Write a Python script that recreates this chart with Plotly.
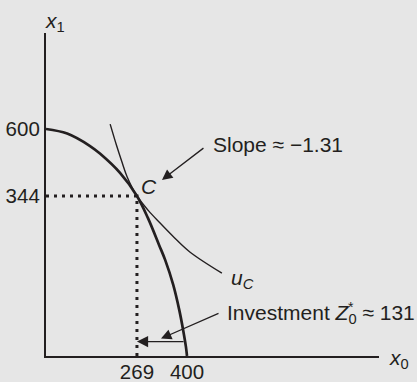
import numpy as np
import plotly.graph_objects as go

# ---- data (schematic units: frontier intercepts at 400 and 600) ----
frontier_x0 = [0, 60, 125, 153, 210, 258, 289, 321, 338, 361, 378, 389, 397, 400]
frontier_x1 = [600, 588, 555, 535, 484, 423, 365, 293, 254, 188, 122, 69, 24, 0]

indiff_x0 = [182, 200, 215, 230, 258, 290, 323, 365, 408, 499]
indiff_x1 = [613, 557, 514, 474, 423, 385, 352, 312, 275, 219]

C_index = 5                      # optimum point C on the frontier
x_tick_labels = ["269", "400"]   # x0 at C, frontier intercept
y_tick_labels = ["344", "600"]   # x1 at C, frontier intercept
slope_text = "Slope \u2248 \u22121.31"
invest_value = "131"
invest_height = 38               # height at which investment arrow is drawn

INK = "#231f20"
BG = "#e6e6e6"
FONT = "Liberation Sans, Arial, Helvetica, sans-serif"

Cx, Cy = frontier_x0[C_index], frontier_x1[C_index]
x_end = frontier_x0[-1]
y_top = frontier_x1[0]

fig = go.Figure()

# dotted guides to C
fig.add_trace(go.Scatter(x=[0, Cx, Cx], y=[Cy, Cy, 0], mode="lines",
                         line=dict(color=INK, width=3, dash="3px,5px"),
                         hoverinfo="skip", showlegend=False))
# frontier
fig.add_trace(go.Scatter(x=frontier_x0, y=frontier_x1, mode="lines",
                         line=dict(color=INK, width=2.7, shape="spline"),
                         cliponaxis=False, showlegend=False))
# indifference curve
fig.add_trace(go.Scatter(x=indiff_x0, y=indiff_x1, mode="lines",
                         line=dict(color=INK, width=1.4, shape="spline"),
                         showlegend=False))

# investment arrow (from frontier back to C's x0)
tail_x = float(np.interp(invest_height, frontier_x1[::-1], frontier_x0[::-1]))
mid_x = (Cx + tail_x) / 2

anns = []
anns.append(dict(x=Cx, y=invest_height, ax=tail_x, ay=invest_height,
                 axref="x", ayref="y", xref="x", yref="y", text="",
                 showarrow=True, arrowhead=2, arrowsize=1.6, arrowwidth=1.4,
                 arrowcolor=INK, standoff=0))
# slope pointer
anns.append(dict(x=Cx, y=Cy, xshift=25, yshift=16, ax=43, ay=-33,
                 text="", showarrow=True, arrowhead=2, arrowsize=1.6,
                 arrowwidth=1.3, arrowcolor=INK, standoff=0))
# investment pointer
anns.append(dict(x=mid_x, y=invest_height, yshift=3, ax=59, ay=-26,
                 text="", showarrow=True, arrowhead=2, arrowsize=1.6,
                 arrowwidth=1.3, arrowcolor=INK, standoff=0))

tf = dict(family=FONT, size=21, color=INK)
anns.append(dict(x=Cx, y=Cy, xshift=74, yshift=51, text=slope_text,
                 showarrow=False, xanchor="left", yanchor="middle", font=tf))
anns.append(dict(x=Cx, y=Cy, xshift=12, yshift=9, text="<i>C</i>",
                 showarrow=False, xanchor="center", yanchor="middle", font=tf))
anns.append(dict(x=indiff_x0[-1], y=indiff_x1[-1], xshift=7, yshift=-6,
                 text="<i>u</i><sub><i>C</i></sub>", showarrow=False,
                 xanchor="left", yanchor="middle", font=tf))
anns.append(dict(x=mid_x, y=invest_height, xshift=64, yshift=28,
                 text="Investment <i>Z</i><sub>0</sub> \u2248 " + invest_value,
                 showarrow=False, xanchor="left", yanchor="middle", font=tf))
anns.append(dict(x=mid_x, y=invest_height, xshift=190, yshift=35,
                 text="*", showarrow=False, xanchor="center", yanchor="middle",
                 font=dict(family=FONT, size=14, color=INK)))
# axis names
anns.append(dict(x=1, y=0, xref="paper", yref="paper", xshift=8, yshift=-3,
                 text="<i>x</i><sub>0</sub>", showarrow=False,
                 xanchor="left", yanchor="middle", font=tf))
anns.append(dict(x=0, y=1, xref="paper", yref="paper", xshift=-3, yshift=11,
                 text="<i>x</i><sub>1</sub>", showarrow=False,
                 xanchor="left", yanchor="middle", font=tf))

W, H = 417, 382
L, T, R, B = 46, 33, 38, 26
px_x = 141 / x_end
px_y = 227 / y_top

fig.update_layout(
    width=W, height=H, margin=dict(l=L, r=R, t=T, b=B, autoexpand=False),
    paper_bgcolor=BG, plot_bgcolor=BG, annotations=anns,
    font=dict(family=FONT, color=INK),
    xaxis=dict(range=[0, (W - L - R) / px_x], showgrid=False, zeroline=False,
               showline=True, linecolor=INK, linewidth=2.2, automargin=False,
               tickvals=[Cx, x_end], ticktext=x_tick_labels, ticks="",
               ticklabelstandoff=-4,
               tickfont=dict(family=FONT, size=20.5, color=INK)),
    yaxis=dict(range=[0, (H - T - B) / px_y], showgrid=False, zeroline=False,
               showline=True, linecolor=INK, linewidth=2.2, automargin=False,
               tickvals=[Cy, y_top], ticktext=y_tick_labels, ticks="",
               tickfont=dict(family=FONT, size=20.5, color=INK)),
)

# remove the browser's default 8px body margin so the figure fills the window
fig.write_html("out.html",
               config={"displayModeBar": False},
               post_script="document.body.style.margin='0px';"
                           "document.body.style.background='" + BG + "';")
